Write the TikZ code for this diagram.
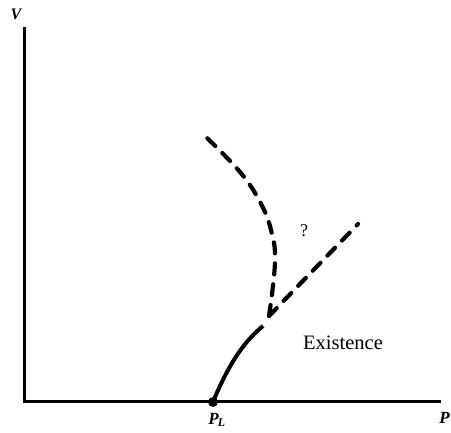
\documentclass[tikz,border=0pt]{standalone}
\usepackage{fontspec}
\setmainfont{Liberation Serif}
\begin{document}
\begin{tikzpicture}[x=1pt,y=-1pt,
  axis/.style={line width=3pt, line cap=butt},
  curve/.style={line width=4pt},
  dcurve/.style={line width=4.2pt, dash pattern=on 11pt off 10pt, line cap=round},
  lab/.style={inner sep=0pt},
  ilab/.style={inner sep=0pt, font=\fontsize{17}{19}\selectfont\bfseries\itshape}]
\useasboundingbox (0,0) rectangle (451,433);
\coordinate (top) at (24,27);
\coordinate (org) at (24,402);
\coordinate (xend) at (441,402);
\coordinate (PL) at (213,402);
\coordinate (J) at (269,316);
\coordinate (Rend) at (358,224);
\coordinate (Uend) at (205,136);
\draw[axis] (top) -- (org) -- (xend);
\fill (PL) circle (5pt);
\draw[curve] (PL) .. controls (227,368) and (242,343) .. (263,326);
\draw[dcurve] (J) -- (Rend);
\draw[dcurve] plot[smooth, tension=0.7] coordinates {(J) (275,262) (271,230) (260,202) (240,172) (Uend)};
\node[ilab, font=\fontsize{16}{18}\selectfont\bfseries\itshape] (V) at (16,14) {V};
\node[ilab, anchor=east] (P) at (450,418) {P};
\node[ilab] (PLlab) at (217,420) {P\textsubscript{\kern-1pt L}};
\node[lab, font=\fontsize{18}{20}\selectfont] (Q) at (304,231) {?};
\node[lab, font=\fontsize{20.5}{22}\selectfont, anchor=west] (E) at (303,343) {Existence};
\end{tikzpicture}
\end{document}
